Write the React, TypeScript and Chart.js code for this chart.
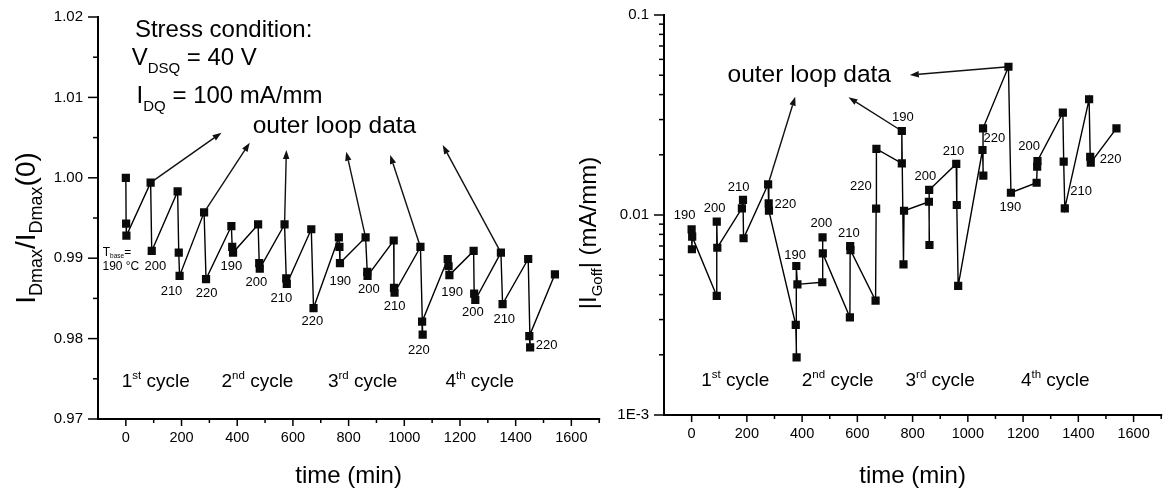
import React, { useEffect, useRef } from "react";
import { Chart, registerables } from "chart.js";

Chart.register(...registerables);

const FONT = '"Liberation Sans", Arial, Helvetica, sans-serif';

// ---------------- data: left panel (normalized IDmax) ----------------
const leftTime = [0, 1, 2, 89, 93, 186, 190, 193, 281, 288, 379, 382, 385, 475, 479, 481, 570, 576, 578, 666, 674, 765, 767, 769, 861, 867, 868, 962, 963, 965, 1058, 1066, 1064, 1156, 1159, 1162, 1249, 1251, 1255, 1347, 1353, 1445, 1452, 1449, 1541];
const leftRatio = [1.0, 0.9943, 0.9928, 0.9994, 0.9909, 0.9983, 0.9907, 0.9878, 0.9957, 0.9874, 0.994, 0.9914, 0.9907, 0.9942, 0.9894, 0.9887, 0.9942, 0.9875, 0.9868, 0.9936, 0.9838, 0.9926, 0.9914, 0.9894, 0.9926, 0.9883, 0.9878, 0.9922, 0.9863, 0.9857, 0.9914, 0.9805, 0.9821, 0.9899, 0.989, 0.9879, 0.9909, 0.9856, 0.9848, 0.9907, 0.9843, 0.9899, 0.9789, 0.9803, 0.988];

// ---------------- data: right panel (|IGoff|, mA/mm) ----------------
const rightTime = [0, 1, 2, 91, 91, 93, 182, 186, 188, 277, 279, 280, 377, 380, 379, 383, 473, 474, 475, 573, 574, 575, 666, 668, 669, 761, 761, 767, 769, 859, 861, 860, 958, 960, 965, 1053, 1056, 1055, 1147, 1156, 1249, 1251, 1252, 1344, 1347, 1351, 1439, 1443, 1445, 1538];
const rightIGoff = [0.00848, 0.00674, 0.00779, 0.00394, 0.00926, 0.00686, 0.0108, 0.01189, 0.00765, 0.01424, 0.01144, 0.01051, 0.00282, 0.00194, 0.00556, 0.0045, 0.00461, 0.00773, 0.00643, 0.00308, 0.007, 0.00668, 0.00373, 0.01075, 0.0214, 0.01813, 0.0263, 0.00567, 0.0105, 0.01165, 0.00708, 0.01334, 0.018, 0.01122, 0.00442, 0.02113, 0.01572, 0.02713, 0.0551, 0.01292, 0.0145, 0.01744, 0.01862, 0.03247, 0.01847, 0.0108, 0.0379, 0.01956, 0.01826, 0.02713];

// ---------------- ticks ----------------
const timeTicks = [0, 200, 400, 600, 800, 1000, 1200, 1400, 1600];
const timeMinorTicks = [100, 300, 500, 700, 900, 1100, 1300, 1500, 1700];
const ratioTicks = [0.97, 0.98, 0.99, 1.0, 1.01, 1.02];
const ratioTickLabels = ["0.97", "0.98", "0.99", "1.00", "1.01", "1.02"];
const ratioMinorTicks = [0.975, 0.985, 0.995, 1.005, 1.015];
const goffTicks = [0.001, 0.01, 0.1];
const goffTickLabels = ["1E-3", "0.01", "0.1"];
const goffMinorTicks = [0.002, 0.003, 0.004, 0.005, 0.006, 0.007, 0.008, 0.009, 0.02, 0.03, 0.04, 0.05, 0.06, 0.07, 0.08, 0.09];

// ---------------- annotations ----------------
const leftTempText = ["200", "210", "220", "190", "200", "210", "220", "190", "200", "210", "220", "190", "200", "210", "220"];
const leftTempT = [106, 164, 290, 379, 469, 558.6, 670, 770, 873, 965, 1052, 1172, 1246, 1359, 1511];
const leftTempV = [0.98894, 0.98592, 0.98563, 0.98894, 0.98695, 0.98501, 0.9821, 0.98708, 0.98613, 0.98397, 0.97858, 0.98576, 0.98327, 0.98244, 0.9792];

const rightTempText = ["190", "200", "210", "220", "190", "200", "210", "220", "190", "200", "210", "220", "190", "200", "210", "220"];
const rightTempT = [-25, 83, 170, 339, 375, 470, 569, 613, 765, 846, 948, 1096, 1154, 1222, 1410, 1517];
const rightTempV = [0.01, 0.0108, 0.01369, 0.01135, 0.00631, 0.00909, 0.00806, 0.01385, 0.03081, 0.01553, 0.02072, 0.02417, 0.01093, 0.02196, 0.01308, 0.01905];

const cycleNumbers = ["1", "2", "3", "4"];
const cycleSuffixes = ["st", "nd", "rd", "th"];
const leftCycleT = [-15, 343.5, 725.7, 1147.7];
const leftCycleV = 0.97402;
const rightCycleT = [35, 398.7, 774.4, 1192];
const rightCycleV = 0.0014;

const leftArrowFrom = [3, 8, 16, 24, 30, 39];
const leftArrowToT = [343.5, 445, 576.5, 791.7, 949.4, 1138];
const leftArrowToV = [1.00561, 1.00437, 1.00346, 1.00325, 1.00284, 1.00408];
const rightArrowFrom = [9, 26, 38];
const rightArrowToT = [375, 568, 790];
const rightArrowToV = [0.03903, 0.03876, 0.0501];

type Part = { s: string; f: number; dy?: number };

const leftNoteT = [32.6, 20.8, 38.7, 455.7, -83, -84];
const leftNoteV = [1.01755, 1.01403, 1.00927, 1.00553, 0.99031, 0.98853];
const leftNoteParts: Part[][] = [
  [{ s: "Stress condition:", f: 24 }],
  [{ s: "V", f: 24 }, { s: "DSQ", f: 15, dy: 8 }, { s: " = 40 V", f: 24 }],
  [{ s: "I", f: 24 }, { s: "DQ", f: 15, dy: 8 }, { s: " = 100 mA/mm", f: 24 }],
  [{ s: "outer loop data", f: 24.5 }],
  [{ s: "T", f: 12 }, { s: "base", f: 6.5, dy: 2.5 }, { s: "=", f: 12 }],
  [{ s: "190 °C", f: 12 }],
];
const rightNoteT = [130];
const rightNoteV = [0.04638];
const rightNoteParts: Part[][] = [[{ s: "outer loop data", f: 24.5 }]];

const leftYTitle: Part[] = [
  { s: "I", f: 28 }, { s: "Dmax", f: 18, dy: 7 }, { s: "/I", f: 28 }, { s: "Dmax", f: 18, dy: 7 }, { s: "(0)", f: 28 },
];
const rightYTitle: Part[] = [{ s: "|I", f: 24 }, { s: "Goff", f: 15, dy: 6 }, { s: "| (mA/mm)", f: 24 }];
const xTitle: Part[] = [{ s: "time (min)", f: 24 }];

// ---------------- helpers ----------------
function partsWidth(ctx: CanvasRenderingContext2D, parts: Part[]) {
  let w = 0;
  for (const p of parts) {
    ctx.font = `${p.f}px ${FONT}`;
    w += ctx.measureText(p.s).width;
  }
  return w;
}
function drawParts(ctx: CanvasRenderingContext2D, parts: Part[], x: number, y: number, align: "left" | "center" = "left") {
  const w = partsWidth(ctx, parts);
  let cx = align === "center" ? x - w / 2 : x;
  ctx.textAlign = "left";
  ctx.textBaseline = "alphabetic";
  for (const p of parts) {
    ctx.font = `${p.f}px ${FONT}`;
    ctx.fillText(p.s, cx, y + (p.dy ?? 0));
    cx += ctx.measureText(p.s).width;
  }
}
function drawArrow(ctx: CanvasRenderingContext2D, x1: number, y1: number, x2: number, y2: number) {
  const ang = Math.atan2(y2 - y1, x2 - x1);
  const L = 9, W = 3.2;
  const bx = x2 - L * Math.cos(ang), by = y2 - L * Math.sin(ang);
  ctx.beginPath();
  ctx.moveTo(x1, y1);
  ctx.lineTo(bx, by);
  ctx.stroke();
  ctx.beginPath();
  ctx.moveTo(x2, y2);
  ctx.lineTo(bx + W * Math.sin(ang), by - W * Math.cos(ang));
  ctx.lineTo(bx - W * Math.sin(ang), by + W * Math.cos(ang));
  ctx.closePath();
  ctx.fill();
}

interface Spec {
  xs: number[];
  ys: number[];
  yType: "linear" | "logarithmic";
  yMin: number;
  yMax: number;
  yMajor: number[];
  yMajorLabels: string[];
  yMinor: number[];
  padTop: number;
  padRight: number;
  yWidth: number;
  xHeight: number;
  yTitle: Part[];
  yTitleX: number;
  yTitleY: number;
  arrowFrom: number[];
  arrowToT: number[];
  arrowToV: number[];
  tempText: string[];
  tempT: number[];
  tempV: number[];
  cycleT: number[];
  cycleV: number;
  noteT: number[];
  noteV: number[];
  noteParts: Part[][];
}

function decorPlugin(spec: Spec) {
  return {
    id: "decor",
    beforeDatasetsDraw(chart: any) {
      const { ctx, scales } = chart;
      const xs = scales.x, ys = scales.y;
      ctx.save();
      ctx.strokeStyle = "#111";
      ctx.fillStyle = "#111";
      ctx.lineWidth = 1.4;
      spec.arrowFrom.forEach((idx, i) => {
        drawArrow(
          ctx,
          xs.getPixelForValue(spec.xs[idx]),
          ys.getPixelForValue(spec.ys[idx]),
          xs.getPixelForValue(spec.arrowToT[i]),
          ys.getPixelForValue(spec.arrowToV[i])
        );
      });
      ctx.restore();
    },
    afterDraw(chart: any) {
      const { ctx, chartArea: a, scales } = chart;
      const xs = scales.x, ys = scales.y;
      ctx.save();
      ctx.strokeStyle = "#000";
      ctx.fillStyle = "#000";
      // axis lines
      ctx.lineWidth = 2;
      ctx.lineCap = "square";
      ctx.beginPath();
      ctx.moveTo(a.left, a.top);
      ctx.lineTo(a.left, a.bottom);
      ctx.lineTo(a.right, a.bottom);
      ctx.stroke();
      ctx.lineCap = "butt";
      ctx.lineWidth = 1.5;
      // x ticks
      for (const t of timeTicks) {
        const px = xs.getPixelForValue(t);
        ctx.beginPath();
        ctx.moveTo(px, a.bottom);
        ctx.lineTo(px, a.bottom + 7);
        ctx.stroke();
      }
      for (const t of timeMinorTicks) {
        const px = xs.getPixelForValue(t);
        ctx.beginPath();
        ctx.moveTo(px, a.bottom);
        ctx.lineTo(px, a.bottom + 4);
        ctx.stroke();
      }
      ctx.font = `14.5px ${FONT}`;
      ctx.textAlign = "center";
      ctx.textBaseline = "middle";
      for (const t of timeTicks) ctx.fillText(String(t), xs.getPixelForValue(t), a.bottom + 19);
      // y ticks
      spec.yMajor.forEach((v) => {
        const py = ys.getPixelForValue(v);
        ctx.beginPath();
        ctx.moveTo(a.left - 10, py);
        ctx.lineTo(a.left, py);
        ctx.stroke();
      });
      spec.yMinor.forEach((v) => {
        const py = ys.getPixelForValue(v);
        ctx.beginPath();
        ctx.moveTo(a.left - 5, py);
        ctx.lineTo(a.left, py);
        ctx.stroke();
      });
      ctx.font = `15px ${FONT}`;
      ctx.textAlign = "right";
      ctx.textBaseline = "middle";
      spec.yMajor.forEach((v, i) => ctx.fillText(spec.yMajorLabels[i], a.left - 15, ys.getPixelForValue(v)));
      // axis titles
      drawParts(ctx, xTitle, (a.left + a.right) / 2, 483, "center");
      ctx.save();
      ctx.translate(spec.yTitleX, spec.yTitleY);
      ctx.rotate(-Math.PI / 2);
      drawParts(ctx, spec.yTitle, 0, 0, "center");
      ctx.restore();
      // temperature labels
      ctx.font = `13px ${FONT}`;
      ctx.textAlign = "center";
      ctx.textBaseline = "middle";
      spec.tempText.forEach((s, i) => ctx.fillText(s, xs.getPixelForValue(spec.tempT[i]), ys.getPixelForValue(spec.tempV[i])));
      // cycle labels
      spec.cycleT.forEach((t, i) => {
        drawParts(
          ctx,
          [{ s: cycleNumbers[i], f: 19 }, { s: cycleSuffixes[i], f: 11.5, dy: -8 }, { s: " cycle", f: 19 }],
          xs.getPixelForValue(t),
          ys.getPixelForValue(spec.cycleV)
        );
      });
      // notes
      spec.noteParts.forEach((parts, i) => {
        drawParts(ctx, parts, xs.getPixelForValue(spec.noteT[i]), ys.getPixelForValue(spec.noteV[i]));
      });
      ctx.restore();
    },
  };
}

function makeChart(canvas: HTMLCanvasElement, spec: Spec) {
  return new Chart(canvas, {
    type: "line",
    data: {
      datasets: [
        {
          data: spec.xs.map((t, i) => ({ x: t, y: spec.ys[i] })),
          borderColor: "#000",
          borderWidth: 1.4,
          pointStyle: "rect",
          pointRadius: 5.8,
          pointBackgroundColor: "#0a0a0a",
          pointBorderColor: "#0a0a0a",
          pointBorderWidth: 0,
          tension: 0,
          fill: false,
        },
      ],
    },
    options: {
      animation: false,
      responsive: false,
      events: [],
      layout: { padding: { top: spec.padTop, right: spec.padRight, left: 0, bottom: 0 } },
      plugins: { legend: { display: false }, tooltip: { enabled: false }, title: { display: false } },
      scales: {
        x: {
          type: "linear",
          min: -100,
          max: 1700,
          grid: { display: false, drawTicks: false },
          border: { display: false },
          ticks: { display: false },
          afterFit: (s: any) => {
            s.height = spec.xHeight;
          },
        },
        y: {
          type: spec.yType,
          min: spec.yMin,
          max: spec.yMax,
          grid: { display: false, drawTicks: false },
          border: { display: false },
          ticks: { display: false },
          afterFit: (s: any) => {
            s.width = spec.yWidth;
          },
        },
      },
    } as any,
    plugins: [decorPlugin(spec)],
  });
}

const leftSpec: Spec = {
  xs: leftTime,
  ys: leftRatio,
  yType: "linear",
  yMin: 0.97,
  yMax: 1.02,
  yMajor: ratioTicks,
  yMajorLabels: ratioTickLabels,
  yMinor: ratioMinorTicks,
  padTop: 17,
  padRight: 5,
  yWidth: 98,
  xHeight: 72,
  yTitle: leftYTitle,
  yTitleX: 35,
  yTitleY: 228,
  arrowFrom: leftArrowFrom,
  arrowToT: leftArrowToT,
  arrowToV: leftArrowToV,
  tempText: leftTempText,
  tempT: leftTempT,
  tempV: leftTempV,
  cycleT: leftCycleT,
  cycleV: leftCycleV,
  noteT: leftNoteT,
  noteV: leftNoteV,
  noteParts: leftNoteParts,
};

const rightSpec: Spec = {
  xs: rightTime,
  ys: rightIGoff,
  yType: "logarithmic",
  yMin: 0.001,
  yMax: 0.1,
  yMajor: goffTicks,
  yMajorLabels: goffTickLabels,
  yMinor: goffMinorTicks,
  padTop: 15,
  padRight: 0,
  yWidth: 104,
  xHeight: 76,
  yTitle: rightYTitle,
  yTitleX: 36,
  yTitleY: 233,
  arrowFrom: rightArrowFrom,
  arrowToT: rightArrowToT,
  arrowToV: rightArrowToV,
  tempText: rightTempText,
  tempT: rightTempT,
  tempV: rightTempV,
  cycleT: rightCycleT,
  cycleV: rightCycleV,
  noteT: rightNoteT,
  noteV: rightNoteV,
  noteParts: rightNoteParts,
};

export default function App() {
  const leftRef = useRef<HTMLCanvasElement | null>(null);
  const rightRef = useRef<HTMLCanvasElement | null>(null);

  useEffect(() => {
    const c1 = makeChart(leftRef.current as HTMLCanvasElement, leftSpec);
    const c2 = makeChart(rightRef.current as HTMLCanvasElement, rightSpec);
    return () => {
      c1.destroy();
      c2.destroy();
    };
  }, []);

  return (
    <div style={{ position: "absolute", left: 0, top: 0, width: 1167, height: 491, background: "#fff", overflow: "hidden" }}>
      <canvas ref={leftRef} width={605} height={491} style={{ position: "absolute", left: 0, top: 0, width: 605, height: 491 }} />
      <canvas ref={rightRef} width={607} height={491} style={{ position: "absolute", left: 560, top: 0, width: 607, height: 491 }} />
    </div>
  );
}
